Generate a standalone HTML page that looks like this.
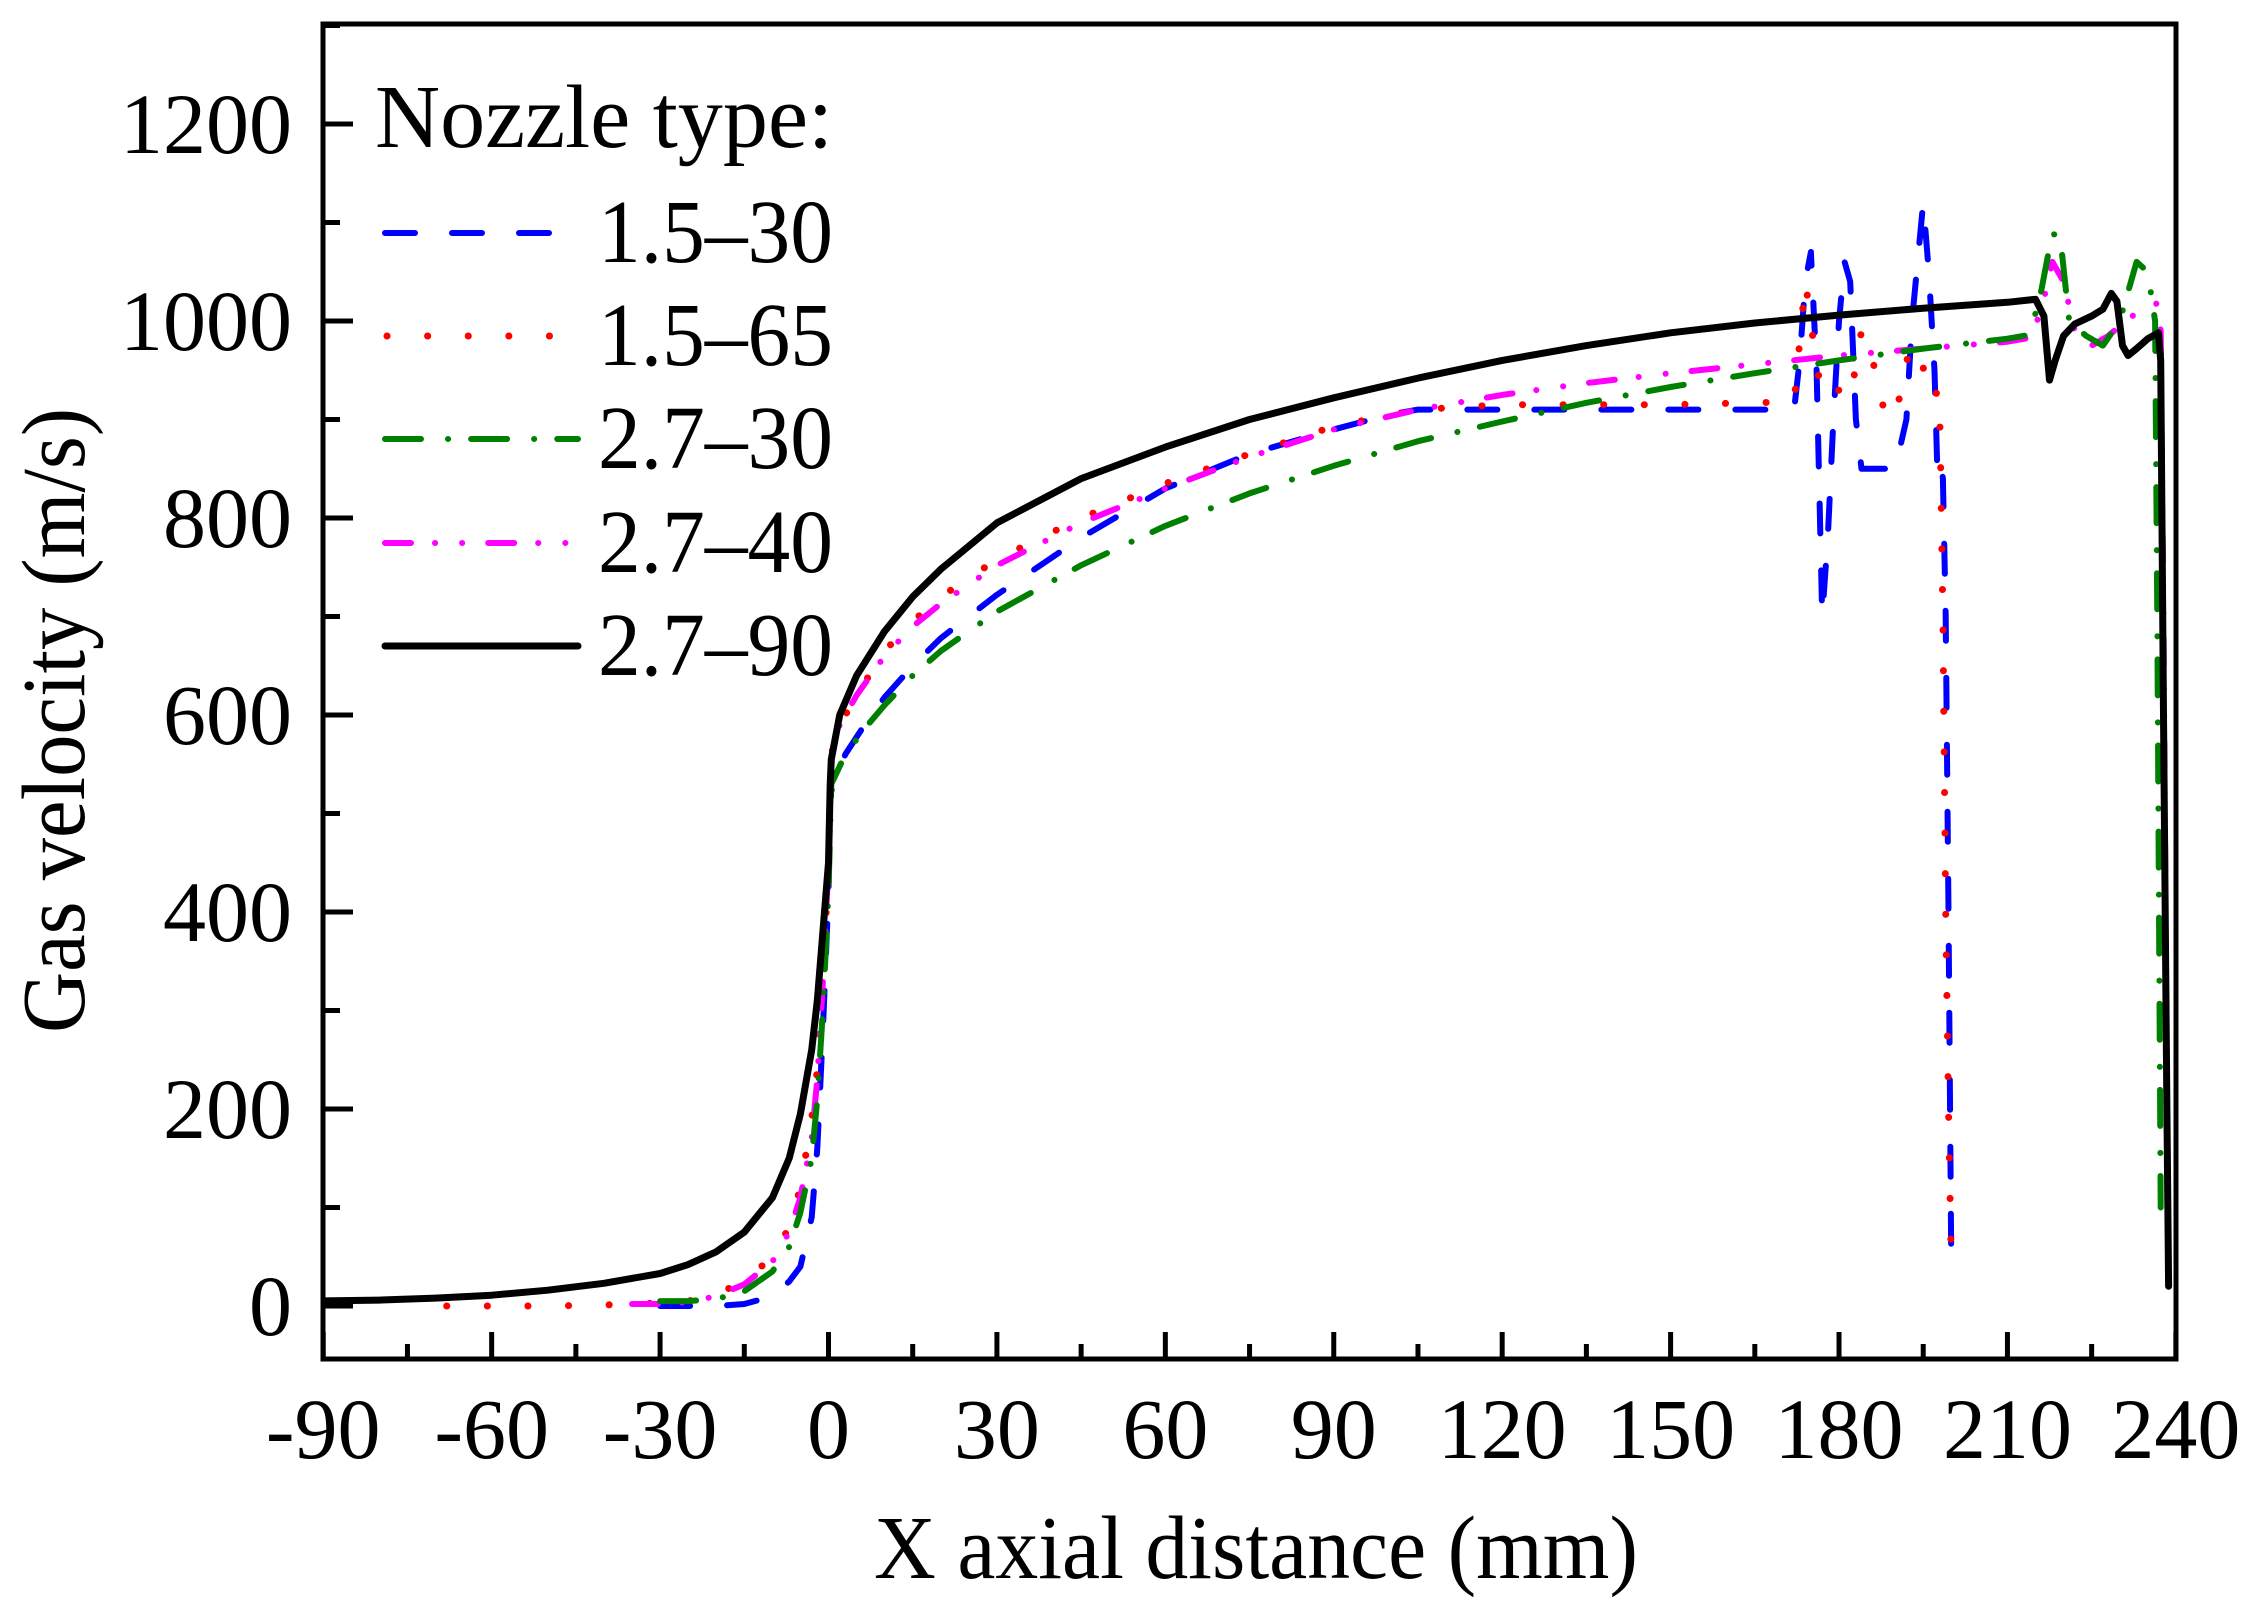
<!DOCTYPE html>
<html><head><meta charset="utf-8"><style>
html,body{margin:0;padding:0;background:#fff;}
svg{display:block;font-family:"Liberation Serif","Times New Roman",serif;}
</style></head><body>
<svg id="s" width="2259" height="1611" viewBox="0 0 2259 1611" xmlns="http://www.w3.org/2000/svg">
<defs><clipPath id="c"><rect x="323" y="24" width="1853" height="1335"/></clipPath></defs>
<g id="series" clip-path="url(#c)" fill="none" stroke-linejoin="round"></g>
<rect x="323" y="24" width="1853" height="1335" fill="none" stroke="#000" stroke-width="5"/>
<g id="ticks" stroke="#000" stroke-width="5"></g>
<g id="labels" font-size="86" fill="#000"></g>
<text x="874" y="1578" font-size="90" textLength="764" lengthAdjust="spacingAndGlyphs">X axial distance (mm)</text>
<text transform="translate(84,1033) rotate(-90)" font-size="90" textLength="625" lengthAdjust="spacingAndGlyphs">Gas velocity (m/s)</text>
<g font-size="90" fill="#000">
<text x="375" y="147" textLength="458" lengthAdjust="spacingAndGlyphs">Nozzle type:</text>
<text x="598" y="262" textLength="235" lengthAdjust="spacingAndGlyphs">1.5–30</text>
<text x="598" y="365" textLength="235" lengthAdjust="spacingAndGlyphs">1.5–65</text>
<text x="598" y="468" textLength="235" lengthAdjust="spacingAndGlyphs">2.7–30</text>
<text x="598" y="572" textLength="235" lengthAdjust="spacingAndGlyphs">2.7–40</text>
<text x="598" y="675" textLength="235" lengthAdjust="spacingAndGlyphs">2.7–90</text>
</g>
<g fill="none" stroke-linecap="round">
<line x1="385" y1="233" x2="555" y2="233" stroke="#0000ff" stroke-width="6" stroke-dasharray="30 37"/>
<line x1="387" y1="336" x2="555" y2="336" stroke="#ff0000" stroke-width="7" stroke-dasharray="0.1 40.5"/>
<line x1="385" y1="439" x2="578" y2="439" stroke="#008000" stroke-width="6" stroke-dasharray="36 27 0.1 23"/>
<line x1="385" y1="543" x2="570" y2="543" stroke="#ff00ff" stroke-width="6" stroke-dasharray="26 24 0.1 27 0.1 26"/>
<line x1="385" y1="646" x2="578" y2="646" stroke="#000" stroke-width="7"/>
</g>
</svg>
<script>
var NS="http://www.w3.org/2000/svg";
function X(x){return 828.5+x*5.614;}
function Y(v){return 1306-v*0.985;}
function el(p,n,a){var e=document.createElementNS(NS,n);for(var k in a)e.setAttribute(k,a[k]);p.appendChild(e);return e;}
var tk=document.getElementById('ticks'),lb=document.getElementById('labels');
for(var i=-90;i<=240;i+=15){var x=X(i);var major=(i%30===0);el(tk,'line',{x1:x,y1:1359,x2:x,y2:1359-(major?27:15)});
 if(major){var t=el(lb,'text',{x:x,y:1458,'text-anchor':'middle'});t.textContent=String(i);}}
for(var v=0;v<=1300;v+=100){var y=Y(v);var major=(v%200===0);el(tk,'line',{x1:323,y1:y,x2:323+(major?30:17),y2:y});
 if(major){var t=el(lb,'text',{x:292,y:y+29,'text-anchor':'end'});t.textContent=String(v);}}
var S=[
{c:"#000",w:7,d:"",p:[[-92,5],[-80,6],[-70,8],[-60,11],[-50,16],[-40,23],[-30,33],[-25,42],[-20,55],[-15,75],[-10,110],[-7,150],[-5,195],[-3,260],[-2,310],[-1,380],[0,450],[0.3,530],[0.5,555],[2,600],[5,640],[10,685],[15,720],[20,748],[30,795],[45,840],[60,872],[75,900],[90,922],[105,942],[120,960],[135,975],[150,988],[165,998],[180,1006],[195,1013],[210,1019],[215,1022],[216.5,1005],[217.5,940],[218.5,960],[220,985],[222,997],[225,1005],[227,1012],[228.5,1028],[229.5,1020],[230.5,975],[231.5,965],[233,972],[235,982],[236.9,988],[237.3,960],[237.8,600],[238.4,200],[238.7,20]]},
{c:"#008000",w:6,d:"36 27 0.1 23",p:[[-30,5],[-25,5],[-20,7],[-15,15],[-10,35],[-7,60],[-5,95],[-3,150],[-2,210],[-1,300],[0,420],[0.5,530],[3,560],[7,590],[10,610],[15,640],[20,665],[30,705],[45,752],[60,792],[75,825],[90,853],[105,878],[120,898],[135,917],[150,933],[165,947],[180,960],[195,972],[210,982],[214,986],[216,1030],[218,1090],[219.5,1080],[221,1000],[224,985],[227,975],[230,1000],[233,1060],[235,1050],[236.3,1000],[236.7,700],[237,400],[237.3,100]]},
{c:"#ff00ff",w:6,d:"26 24 0.1 27 0.1 26",p:[[-35,2],[-30,2],[-25,4],[-20,10],[-15,22],[-10,45],[-7,75],[-5,110],[-3,170],[-2,230],[-1,330],[0,450],[0.5,560],[2,590],[5,620],[10,660],[15,690],[20,713],[30,752],[45,795],[60,830],[75,862],[90,890],[105,910],[120,925],[135,937],[150,947],[165,956],[180,965],[195,972],[210,979],[214,983],[216,1010],[218,1060],[220,1040],[222,990],[225,975],[228,985],[231,1000],[234,1012],[236.5,1018],[237.3,990],[237.8,700],[238.3,300],[238.6,100]]},
{c:"#ff0000",w:7,d:"0.1 40.5",p:[[-68,0],[-60,0],[-50,0],[-40,1],[-30,3],[-25,5],[-20,12],[-15,25],[-10,50],[-7,80],[-5,120],[-3,190],[-2,240],[-1,330],[0,450],[0.5,560],[2,590],[5,620],[10,665],[15,695],[20,720],[30,758],[45,800],[60,835],[75,865],[90,893],[105,910],[120,915],[150,915],[172,918],[174,1040],[175,1000],[176,950],[178,920],[180,930],[182,920],[184,990],[186,960],[188,910],[190,900],[192,960],[194,975],[196,930],[197,920],[197.5,930],[198,890],[198.5,700],[199,400],[199.5,200],[200,40]]},
{c:"#0000ff",w:6,d:"30 37",p:[[-30,0],[-20,0],[-15,2],[-10,10],[-7,25],[-5,40],[-3,90],[-2,160],[-1,280],[0,420],[0.3,520],[1,530],[3,560],[7,595],[10,618],[15,650],[20,678],[30,722],[45,780],[60,830],[75,865],[90,890],[100,905],[105,910],[172,910],[173,960],[174,1040],[175,1070],[176,950],[177,700],[178,780],[179,900],[180,1000],[181,1060],[182,1040],[183,900],[184,850],[188,850],[190,850],[192,900],[193,1000],[194,1060],[195,1120],[196,1050],[197,950],[197.5,850],[198,860],[198.5,840],[199,700],[199.5,400],[200,40]]}
];
var g=document.getElementById('series');
S.slice().reverse().forEach(function(s){
 var pts=s.p.map(function(q){return X(q[0]).toFixed(1)+","+Y(q[1]).toFixed(1);}).join(" ");
 var a={points:pts,stroke:s.c,'stroke-width':s.w,'stroke-linecap':'round'};
 if(s.d)a['stroke-dasharray']=s.d;
 el(g,'polyline',a);
});
</script>
</body></html>
